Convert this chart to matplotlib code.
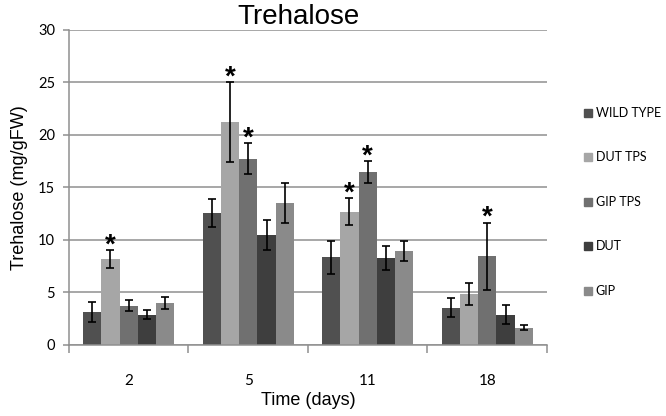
import numpy as np
import matplotlib
matplotlib.use("Agg")
import matplotlib.pyplot as plt
from matplotlib.lines import Line2D

# data
days = ['2', '5', '11', '18']
lines = ['WILD TYPE', 'DUT TPS', 'GIP TPS', 'DUT', 'GIP']
wild_type = [3.15, 12.55, 8.35, 3.55]
dut_tps = [8.2, 21.2, 12.7, 4.85]
gip_tps = [3.75, 17.75, 16.45, 8.45]
dut = [2.9, 10.45, 8.3, 2.9]
gip = [4.0, 13.5, 8.95, 1.65]
wild_type_err = [0.95, 1.35, 1.55, 0.9]
dut_tps_err = [0.83, 3.8, 1.25, 1.05]
gip_tps_err = [0.5, 1.5, 1.05, 3.2]
dut_err = [0.42, 1.45, 1.15, 0.9]
gip_err = [0.6, 1.9, 0.95, 0.22]
# significance stars (per line, per day)
dut_tps_sig = [True, True, True, False]
gip_tps_sig = [False, True, True, True]

colors = ['#505050', '#a6a6a6', '#707070', '#3e3e3e', '#8a8a8a']
grid_col = '#8f8f8f'

values = [wild_type, dut_tps, gip_tps, dut, gip]
errors = [wild_type_err, dut_tps_err, gip_tps_err, dut_err, gip_err]
sigs = [None, dut_tps_sig, gip_tps_sig, None, None]

fig = plt.figure(figsize=(6.66, 4.16), dpi=100)
ax = fig.add_axes([0.1036, 0.1707, 0.7177, 0.7573])

x = np.arange(len(days))
w = 0.153
for j, (vals, errs) in enumerate(zip(values, errors)):
    pos = x + (j - 2) * w
    ax.bar(pos, vals, width=w, color=colors[j], zorder=2)
    ax.errorbar(pos, vals, yerr=errs, fmt='none', ecolor='black',
                elinewidth=1.2, capsize=2.8, capthick=1.2, zorder=3)
    if sigs[j] is not None:
        for p, v, e, s in zip(pos, vals, errs, sigs[j]):
            if s:
                ax.annotate('*', (p, v + e), xytext=(0, -6),
                            textcoords='offset points', ha='center',
                            va='bottom', fontsize=20, fontweight='bold',
                            family='Liberation Sans', zorder=4)

ax.set_xlim(-0.5, len(days) - 0.5)
ax.set_ylim(0, 30)
ax.set_yticks(np.arange(0, 31, 5))
ax.yaxis.grid(True, color=grid_col, linewidth=1.1, zorder=0)
ax.set_axisbelow(True)

ax.set_xticks(x)
ax.set_xticklabels(days, fontsize=11, family='Lato')
ax.set_xticks(np.arange(-0.5, len(days)), minor=True)
ax.tick_params(axis='x', which='major', length=0, pad=21)
ax.tick_params(axis='x', which='minor', length=6, color=grid_col, width=1.1)
ax.tick_params(axis='y', length=4, color=grid_col, width=1.1, pad=6,
               labelsize=10.5)
for t in ax.get_yticklabels():
    t.set_family('Lato')

for s in ['top', 'right']:
    ax.spines[s].set_visible(False)
for s in ['left', 'bottom']:
    ax.spines[s].set_color(grid_col)
    ax.spines[s].set_linewidth(1.1)

ax.set_title('Trehalose', fontsize=20, family='Liberation Sans', pad=4,
             x=0.48)
ax.set_xlabel('Time (days)', fontsize=13, family='Liberation Sans', labelpad=3)
ax.set_ylabel('Trehalose (mg/gFW)', fontsize=13, family='Liberation Sans',
              labelpad=7)

handles = [Line2D([], [], marker='s', linestyle='none', markersize=6,
                  color=c) for c in colors]
fig.legend(handles, lines, loc='upper left', bbox_to_anchor=(0.869, 0.755),
           frameon=False, handlelength=0.6, handletextpad=0.35,
           labelspacing=2.6, borderaxespad=0,
           prop={'family': 'Lato', 'size': 9})

fig.savefig('out.png', dpi=100)
